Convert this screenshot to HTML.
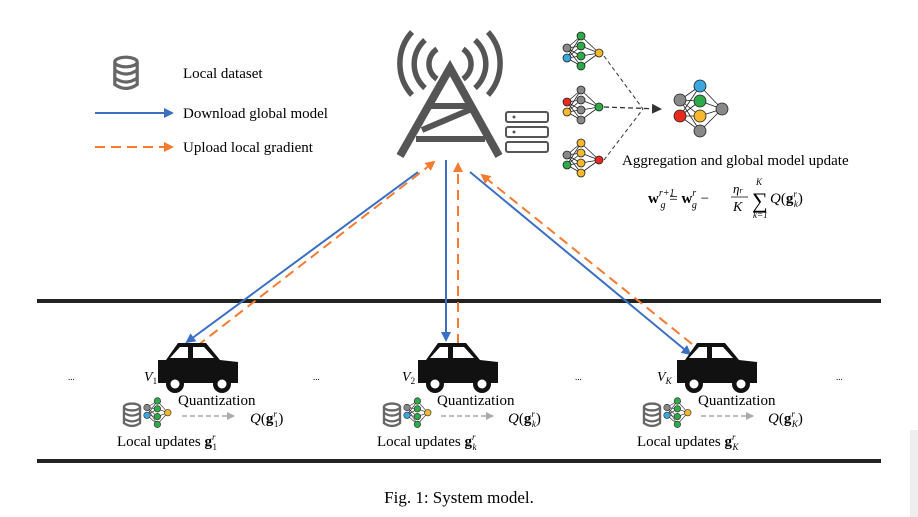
<!DOCTYPE html>
<html><head><meta charset="utf-8"><style>
body{margin:0;background:#fff;}
svg{display:block;font-family:"Liberation Serif",serif;}
</style></head><body>
<svg width="918" height="517" viewBox="0 0 918 517" xmlns="http://www.w3.org/2000/svg">
<defs>
<marker id="ab" markerWidth="10" markerHeight="10" refX="8" refY="5" orient="auto" markerUnits="userSpaceOnUse"><path d="M0,0 L10,5 L0,10 z" fill="#3a6fc4"/></marker>
<marker id="ao" markerWidth="10" markerHeight="10" refX="8" refY="5" orient="auto" markerUnits="userSpaceOnUse"><path d="M0,0 L10,5 L0,10 z" fill="#f47b30"/></marker>
<marker id="ag" markerWidth="8" markerHeight="8" refX="7" refY="4" orient="auto" markerUnits="userSpaceOnUse"><path d="M0,0 L8,4 L0,8 z" fill="#aaa"/></marker>
<marker id="ak" markerWidth="10" markerHeight="10" refX="8" refY="5" orient="auto" markerUnits="userSpaceOnUse"><path d="M0,0 L10,5 L0,10 z" fill="#333"/></marker>
<g id="car">
<path d="M0,17 L8,17 L20,0 L48,0 L62,17 L80,19 L80,40 L0,40 z" fill="#111"/>
<path d="M12,15 L22,4 L30,4 L30,15 z M35,4 L46,4 L56,15 L35,15 z" fill="#fff"/>
<circle cx="17" cy="41" r="9" fill="#111"/><circle cx="17" cy="41" r="4.5" fill="#fff"/>
<circle cx="64" cy="41" r="9" fill="#111"/><circle cx="64" cy="41" r="4.5" fill="#fff"/>
</g>
<g id="db" fill="none" stroke="#666" stroke-width="2">
<ellipse cx="0" cy="0" rx="7" ry="3"/><path d="M-7,0 V14 Q0,19 7,14 V0 M-7,5 Q0,10 7,5 M-7,10 Q0,15 7,10"/>
</g>
<g id="snn" stroke="#333" stroke-width="0.5">
<path d="M0,5 L8,0 M0,5 L8,6 M0,5 L8,12 M0,5 L8,18 M0,11 L8,0 M0,11 L8,6 M0,11 L8,12 M0,11 L8,18 M8,0 L16,9 M8,6 L16,9 M8,12 L16,9 M8,18 L16,9"/>
<circle cx="0" cy="5" r="2.5" fill="#888"/><circle cx="0" cy="11" r="2.5" fill="#3aa6dd"/>
<circle cx="8" cy="0" r="2.5" fill="#2eaa4a"/><circle cx="8" cy="6" r="2.5" fill="#2eaa4a"/><circle cx="8" cy="12" r="2.5" fill="#2eaa4a"/><circle cx="8" cy="18" r="2.5" fill="#2eaa4a"/>
<circle cx="16" cy="9" r="2.5" fill="#f5b82e"/>
</g>
</defs>

<!-- legend -->
<g transform="translate(126,62) scale(1.6)"><use href="#db"/></g>
<text x="183" y="78" font-size="15">Local dataset</text>
<line x1="95" y1="113" x2="172" y2="113" stroke="#3a6fc4" stroke-width="2" marker-end="url(#ab)"/>
<text x="183" y="118" font-size="15">Download global model</text>
<line x1="95" y1="147" x2="172" y2="147" stroke="#f47b30" stroke-width="2" stroke-dasharray="10,6" marker-end="url(#ao)"/>
<text x="183" y="152" font-size="15">Upload local gradient</text>

<!-- tower -->
<g fill="none" stroke="#555" stroke-width="5.5">
<path d="M437,49 A18,18 0 0 0 437,79"/><path d="M463,49 A18,18 0 0 1 463,79"/>
<path d="M425,40 A32,32 0 0 0 425,88"/><path d="M475,40 A32,32 0 0 1 475,88"/>
<path d="M412,32 A47,47 0 0 0 412,95"/><path d="M488,32 A47,47 0 0 1 488,95"/>
</g>
<g stroke="#555" stroke-width="8" fill="none" stroke-linejoin="miter">
<path d="M400,156 L450,68 L499,156"/>
</g>
<g stroke="#555" stroke-width="6" fill="none">
<path d="M430,106 L472,106 M422,130 L474,108 M416,139 L485,139"/>
</g>
<g fill="none" stroke="#555" stroke-width="2">
<rect x="506" y="112" width="42" height="10" rx="2"/><rect x="506" y="127" width="42" height="10" rx="2"/><rect x="506" y="142" width="42" height="10" rx="2"/>
</g>
<circle cx="514" cy="117" r="1.5" fill="#555"/><circle cx="514" cy="132" r="1.5" fill="#555"/>

<!-- NNs -->
<g stroke="#222" stroke-width="0.8">
<g transform="translate(567,36)">
<path d="M0,12 L14,0 M0,12 L14,10 M0,12 L14,20 M0,12 L14,30 M0,22 L14,0 M0,22 L14,10 M0,22 L14,20 M0,22 L14,30 M14,0 L32,17 M14,10 L32,17 M14,20 L32,17 M14,30 L32,17"/>
<circle cx="0" cy="12" r="4" fill="#888"/><circle cx="0" cy="22" r="4" fill="#3aa6dd"/>
<circle cx="14" cy="0" r="4" fill="#2eaa4a"/><circle cx="14" cy="10" r="4" fill="#2eaa4a"/><circle cx="14" cy="20" r="4" fill="#2eaa4a"/><circle cx="14" cy="30" r="4" fill="#2eaa4a"/>
<circle cx="32" cy="17" r="4" fill="#f5b82e"/>
</g>
<g transform="translate(567,90)">
<path d="M0,12 L14,0 M0,12 L14,10 M0,12 L14,20 M0,12 L14,30 M0,22 L14,0 M0,22 L14,10 M0,22 L14,20 M0,22 L14,30 M14,0 L32,17 M14,10 L32,17 M14,20 L32,17 M14,30 L32,17"/>
<circle cx="0" cy="12" r="4" fill="#e82a1e"/><circle cx="0" cy="22" r="4" fill="#f5b82e"/>
<circle cx="14" cy="0" r="4" fill="#888"/><circle cx="14" cy="10" r="4" fill="#888"/><circle cx="14" cy="20" r="4" fill="#888"/><circle cx="14" cy="30" r="4" fill="#888"/>
<circle cx="32" cy="17" r="4" fill="#2eaa4a"/>
</g>
<g transform="translate(567,143)">
<path d="M0,12 L14,0 M0,12 L14,10 M0,12 L14,20 M0,12 L14,30 M0,22 L14,0 M0,22 L14,10 M0,22 L14,20 M0,22 L14,30 M14,0 L32,17 M14,10 L32,17 M14,20 L32,17 M14,30 L32,17"/>
<circle cx="0" cy="12" r="4" fill="#888"/><circle cx="0" cy="22" r="4" fill="#2eaa4a"/>
<circle cx="14" cy="0" r="4" fill="#f5b82e"/><circle cx="14" cy="10" r="4" fill="#f5b82e"/><circle cx="14" cy="20" r="4" fill="#f5b82e"/><circle cx="14" cy="30" r="4" fill="#f5b82e"/>
<circle cx="32" cy="17" r="4" fill="#e82a1e"/>
</g>
<g transform="translate(680,86)">
<path d="M0,14 L20,0 M0,14 L20,15 M0,14 L20,30 M0,14 L20,45 M0,30 L20,0 M0,30 L20,15 M0,30 L20,30 M0,30 L20,45 M20,0 L42,23 M20,15 L42,23 M20,30 L42,23 M20,45 L42,23"/>
<circle cx="0" cy="14" r="6" fill="#888"/><circle cx="0" cy="30" r="6" fill="#e82a1e"/>
<circle cx="20" cy="0" r="6" fill="#3aa6dd"/><circle cx="20" cy="15" r="6" fill="#2eaa4a"/><circle cx="20" cy="30" r="6" fill="#f5b82e"/><circle cx="20" cy="45" r="6" fill="#888"/>
<circle cx="42" cy="23" r="6" fill="#888"/>
</g>
</g>
<g stroke="#333" stroke-width="1" fill="none" stroke-dasharray="4,3">
<path d="M604,56 L643,109 L604,160"/>
</g>
<line x1="604" y1="107" x2="660" y2="109" stroke="#333" stroke-width="1.3" stroke-dasharray="5,3" marker-end="url(#ak)"/>
<text x="622" y="165" font-size="15">Aggregation and global model update</text>
<text x="648" y="203" font-size="15"><tspan font-weight="bold">w</tspan><tspan font-size="10" dy="-7" font-style="italic">r+1</tspan><tspan font-size="10" dx="-14" dy="12" font-style="italic">g</tspan><tspan dy="-5"> = </tspan><tspan font-weight="bold">w</tspan><tspan font-size="10" dy="-7" font-style="italic">r</tspan><tspan font-size="10" dx="-4" dy="12" font-style="italic">g</tspan><tspan dy="-5"> −</tspan></text>
<text x="733" y="193" font-size="13" font-style="italic">η<tspan font-size="8">r</tspan></text>
<line x1="731" y1="197" x2="748" y2="197" stroke="#000" stroke-width="0.8"/>
<text x="733" y="211" font-size="14" font-style="italic">K</text>
<text x="752" y="208" font-size="22">∑</text>
<text x="756" y="185" font-size="9" font-style="italic">K</text>
<text x="753" y="218" font-size="9" font-style="italic">k=1</text>
<text x="770" y="203" font-size="15"><tspan font-style="italic">Q</tspan>(<tspan font-weight="bold">g</tspan><tspan font-size="9" dy="-6" font-style="italic">r</tspan><tspan font-size="9" dx="-3" dy="10" font-style="italic">k</tspan><tspan dy="-4">)</tspan></text>

<!-- roads -->
<rect x="37" y="299" width="844" height="4" fill="#222"/>
<rect x="37" y="459" width="844" height="4" fill="#222"/>
<rect x="910" y="430" width="8" height="87" fill="#eee"/>

<!-- links -->
<line x1="418" y1="172" x2="187" y2="342" stroke="#3a6fc4" stroke-width="2" marker-end="url(#ab)"/>
<line x1="197" y1="346" x2="434" y2="162" stroke="#f47b30" stroke-width="2" stroke-dasharray="10,6" marker-end="url(#ao)"/>
<line x1="446" y1="160" x2="446" y2="340" stroke="#3a6fc4" stroke-width="2" marker-end="url(#ab)"/>
<line x1="458" y1="344" x2="458" y2="164" stroke="#f47b30" stroke-width="2" stroke-dasharray="10,6" marker-end="url(#ao)"/>
<line x1="470" y1="172" x2="690" y2="354" stroke="#3a6fc4" stroke-width="2" marker-end="url(#ab)"/>
<line x1="692" y1="344" x2="482" y2="175" stroke="#f47b30" stroke-width="2" stroke-dasharray="10,6" marker-end="url(#ao)"/>

<!-- cars -->
<use href="#car" x="158" y="343"/>
<use href="#car" x="418" y="343"/>
<use href="#car" x="677" y="343"/>
<g font-size="9"><text x="68" y="380">...</text><text x="313" y="380">...</text><text x="575" y="380">...</text><text x="836" y="380">...</text></g>

<g font-size="14">
<text x="144" y="381" font-style="italic">V<tspan font-size="9" dy="3" font-style="normal">1</tspan></text>
<text x="402" y="381" font-style="italic">V<tspan font-size="9" dy="3" font-style="normal">2</tspan></text>
<text x="657" y="381" font-style="italic">V<tspan font-size="9" dy="3">K</tspan></text>
</g>

<g font-size="15">
<text x="178" y="405">Quantization</text>
<text x="437" y="405">Quantization</text>
<text x="698" y="405">Quantization</text>
<text x="117" y="446">Local updates <tspan font-weight="bold">g</tspan><tspan font-size="9" dy="-6" font-style="italic">r</tspan><tspan font-size="9" dx="-3" dy="10">1</tspan></text>
<text x="377" y="446">Local updates <tspan font-weight="bold">g</tspan><tspan font-size="9" dy="-6" font-style="italic">r</tspan><tspan font-size="9" dx="-3" dy="10" font-style="italic">k</tspan></text>
<text x="637" y="446">Local updates <tspan font-weight="bold">g</tspan><tspan font-size="9" dy="-6" font-style="italic">r</tspan><tspan font-size="9" dx="-3" dy="10" font-style="italic">K</tspan></text>
<text x="250" y="423"><tspan font-style="italic">Q</tspan>(<tspan font-weight="bold">g</tspan><tspan font-size="9" dy="-6" font-style="italic">r</tspan><tspan font-size="9" dx="-3" dy="10">1</tspan><tspan dy="-4">)</tspan></text>
<text x="508" y="423"><tspan font-style="italic">Q</tspan>(<tspan font-weight="bold">g</tspan><tspan font-size="9" dy="-6" font-style="italic">r</tspan><tspan font-size="9" dx="-3" dy="10" font-style="italic">k</tspan><tspan dy="-4">)</tspan></text>
<text x="768" y="423"><tspan font-style="italic">Q</tspan>(<tspan font-weight="bold">g</tspan><tspan font-size="9" dy="-6" font-style="italic">r</tspan><tspan font-size="9" dx="-3" dy="10" font-style="italic">K</tspan><tspan dy="-4">)</tspan></text>
</g>

<g transform="translate(132,407) scale(1.15)"><use href="#db"/></g>
<g transform="translate(147,401) scale(1.3)"><use href="#snn"/></g>
<line x1="182" y1="416" x2="234" y2="416" stroke="#aaa" stroke-width="1.5" stroke-dasharray="5,3" marker-end="url(#ag)"/>
<g transform="translate(392,407) scale(1.15)"><use href="#db"/></g>
<g transform="translate(407,401) scale(1.3)"><use href="#snn"/></g>
<line x1="441" y1="416" x2="493" y2="416" stroke="#aaa" stroke-width="1.5" stroke-dasharray="5,3" marker-end="url(#ag)"/>
<g transform="translate(652,407) scale(1.15)"><use href="#db"/></g>
<g transform="translate(667,401) scale(1.3)"><use href="#snn"/></g>
<line x1="701" y1="416" x2="753" y2="416" stroke="#aaa" stroke-width="1.5" stroke-dasharray="5,3" marker-end="url(#ag)"/>

<text x="459" y="503" font-size="17" text-anchor="middle">Fig. 1: System model.</text>
</svg>
</body></html>
